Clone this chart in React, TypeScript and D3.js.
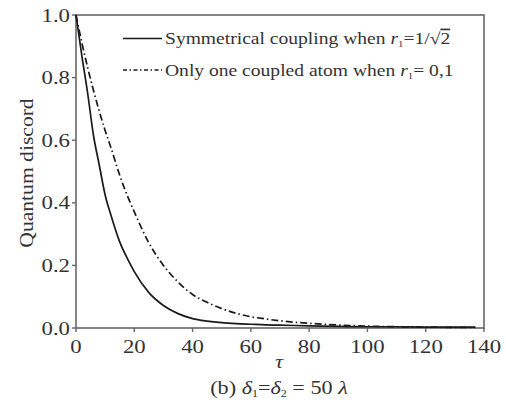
import React from "react";
import * as d3 from "d3";

const tau = [0, 2, 4, 6, 8, 10, 12, 15, 18, 20, 25, 30, 35, 40, 45, 50, 55, 60, 65, 70, 80, 90, 100, 110, 120, 130, 137];
const symmetric = [1.0, 0.87, 0.75, 0.615, 0.52, 0.425, 0.36, 0.275, 0.215, 0.18, 0.113, 0.072, 0.046, 0.03, 0.022, 0.017, 0.014, 0.012, 0.01, 0.009, 0.007, 0.005, 0.004, 0.004, 0.003, 0.003, 0.003];
const oneAtom = [1.0, 0.912, 0.832, 0.759, 0.692, 0.631, 0.576, 0.488, 0.414, 0.371, 0.272, 0.2, 0.147, 0.107, 0.082, 0.062, 0.047, 0.036, 0.029, 0.023, 0.015, 0.0095, 0.006, 0.004, 0.003, 0.002, 0.002];
const xTicks = [0, 20, 40, 60, 80, 100, 120, 140];
const yTicks = [0, 0.2, 0.4, 0.6, 0.8, 1.0];

const FONT = "'Liberation Serif', serif";
const SX = 1.2; // glyphs in the picture are wider than Times

const Txt = ({ x, y, size, anchor = "start", rotate = 0, children }: any) => (
  <text
    transform={`translate(${x},${y}) rotate(${rotate}) scale(${SX},1)`}
    style={{ fontFamily: FONT }}
    fontSize={size}
    textAnchor={anchor}
    fill="#333"
  >
    {children}
  </text>
);

const App = () => {
  const margin = { top: 15, left: 76, right: 484, bottom: 328 };
  const x = d3.scaleLinear().domain([0, 140]).range([margin.left, margin.right]);
  const y = d3.scaleLinear().domain([0, 1]).range([margin.bottom, margin.top]);
  const fmt = d3.format(".1f");

  const line = d3
    .line<number>()
    .x((d, i) => x(tau[i]))
    .y(d => y(d))
    .curve(d3.curveMonotoneX);

  const axisColor = "#666";
  const dash = "7,3,1.5,3";

  return (
    <svg width={506} height={405} style={{ position: "absolute", left: 0, top: 0, background: "#fff" }}>
      {/* frame */}
      <rect
        x={margin.left}
        y={margin.top}
        width={margin.right - margin.left}
        height={margin.bottom - margin.top}
        fill="none"
        stroke={axisColor}
        strokeWidth={1.6}
      />

      {/* y ticks */}
      {yTicks.map(t => (
        <g key={"y" + t}>
          <line x1={margin.left - 4} x2={margin.left} y1={y(t)} y2={y(t)} stroke={axisColor} strokeWidth={1.4} />
          <Txt x={70} y={y(t) + 6.5} size={19} anchor="end">{fmt(t)}</Txt>
        </g>
      ))}

      {/* x ticks */}
      {xTicks.map(t => (
        <g key={"x" + t}>
          <line x1={x(t)} x2={x(t)} y1={margin.bottom} y2={margin.bottom + 4} stroke={axisColor} strokeWidth={1.4} />
          <Txt x={x(t)} y={353} size={19} anchor="middle">{t}</Txt>
        </g>
      ))}

      {/* curves */}
      <path d={line(symmetric) || ""} fill="none" stroke="#1a1a1a" strokeWidth={1.7} />
      <path d={line(oneAtom) || ""} fill="none" stroke="#1a1a1a" strokeWidth={1.7} strokeDasharray={dash} />

      {/* axis labels */}
      <Txt x={33} y={173} size={18} anchor="middle" rotate={-90}>Quantum discord</Txt>
      <Txt x={279} y={368} size={18} anchor="middle">
        <tspan fontStyle="italic">τ</tspan>
      </Txt>
      <Txt x={279} y={394} size={18.5} anchor="middle">
        (b) <tspan fontStyle="italic">δ</tspan>
        <tspan fontSize={10} dy={3}>1</tspan>
        <tspan dy={-3}>=</tspan>
        <tspan fontStyle="italic">δ</tspan>
        <tspan fontSize={10} dy={3}>2</tspan>
        <tspan dy={-3}> = 50 </tspan>
        <tspan fontStyle="italic">λ</tspan>
      </Txt>

      {/* legend */}
      <line x1={123} x2={162} y1={38.5} y2={38.5} stroke="#1a1a1a" strokeWidth={1.7} />
      <Txt x={165} y={44} size={16.3}>
        Symmetrical coupling when <tspan fontStyle="italic">r</tspan>
        <tspan fontSize={9} dy={3}>1</tspan>
        <tspan dy={-3}>=1/√</tspan>
        <tspan textDecoration="overline">2</tspan>
      </Txt>
      <line x1={123} x2={162} y1={70} y2={70} stroke="#1a1a1a" strokeWidth={1.7} strokeDasharray="4,2.5,1.5,2.5" />
      <Txt x={165} y={75.5} size={16.3}>
        Only one coupled atom when <tspan fontStyle="italic">r</tspan>
        <tspan fontSize={9} dy={3}>1</tspan>
        <tspan dy={-3}>= 0,1</tspan>
      </Txt>
    </svg>
  );
};

export default App;
